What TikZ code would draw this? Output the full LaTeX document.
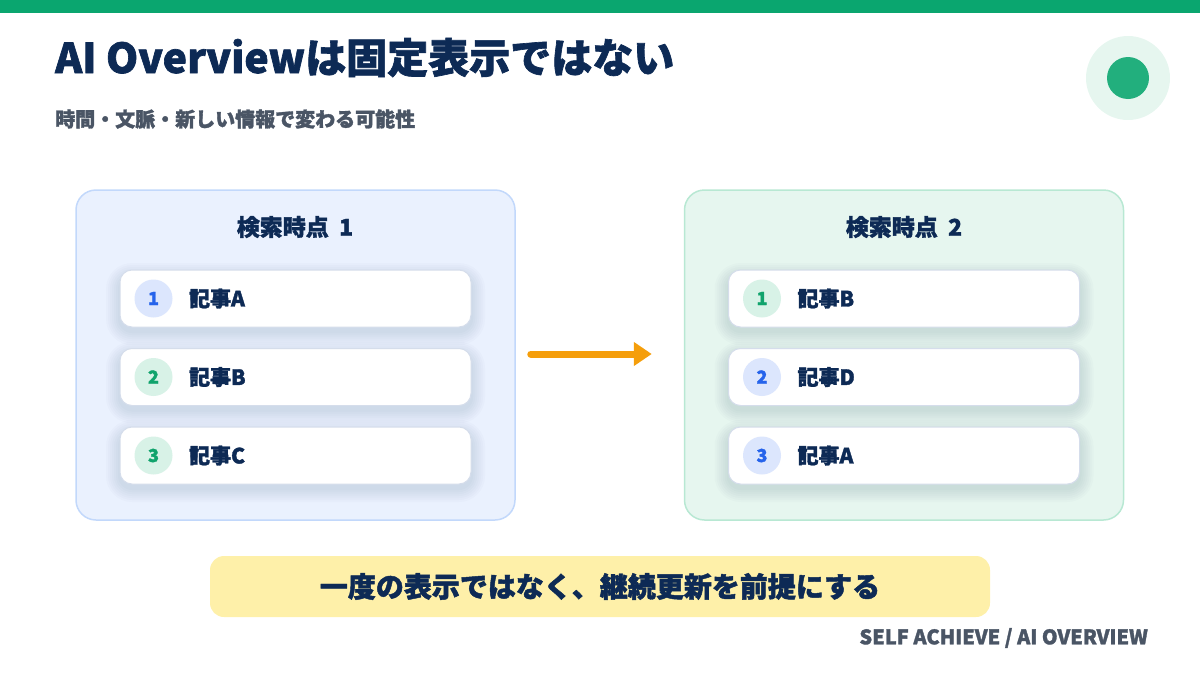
\documentclass[tikz,border=0pt]{standalone}
\usepackage{fontspec}
\setmainfont{Noto Sans CJK JP}[BoldFeatures={FakeBold=1.6}]
\usepackage{xcolor}
\usetikzlibrary{arrows.meta,positioning}

\definecolor{topbar}{HTML}{0AA66F}
\definecolor{navy}{HTML}{0D2A55}
\definecolor{subgray}{HTML}{4A5565}
\definecolor{bluebg}{HTML}{EAF1FE}
\definecolor{blueline}{HTML}{C2D8FB}
\definecolor{greenbg}{HTML}{E6F6EF}
\definecolor{greenline}{HTML}{B8E8D3}
\definecolor{itemline}{HTML}{D5DDEB}
\definecolor{numblue}{HTML}{2563EB}
\definecolor{badgeblue}{HTML}{DCE6FD}
\definecolor{numgreen}{HTML}{10A36C}
\definecolor{badgegreen}{HTML}{D8F2E7}
\definecolor{arroworange}{HTML}{F59E0B}
\definecolor{bannerbg}{HTML}{FEF0A9}
\definecolor{dotouter}{HTML}{E6F6EF}
\definecolor{dotinner}{HTML}{22AF7D}

\begin{document}
\begin{tikzpicture}[x=1pt,y=-1pt,
  panel/.style={line width=1.5pt,rounded corners=20pt,minimum width=439pt,minimum height=330pt},
  head/.style={text=navy,font=\bfseries\fontsize{23}{25}\selectfont},
  item/.style={draw=itemline,line width=1pt,fill=white,rounded corners=12pt,
    minimum width=351pt,minimum height=57pt},
  glow/.style={fill=navy,opacity=0.014},
  badge/.style={circle,minimum size=38pt,inner sep=0pt,font=\bfseries\fontsize{18}{18}\selectfont},
  entry/.style={anchor=west,text=navy,font=\bfseries\fontsize{21}{23}\selectfont}]
  \useasboundingbox (0,0) rectangle (1200,675);
  \fill[topbar] (0,0) rectangle (1200,13);

  % title
  \node[anchor=base west,inner sep=0pt,text=navy,font=\bfseries\fontsize{41}{44}\selectfont]
    (title) at (55,73) {AI Overviewは固定表示ではない};
  \node[anchor=west,inner sep=0pt,text=subgray,font=\bfseries\fontsize{20}{22}\selectfont]
    (sub) at (55,119) {時間・文脈・新しい情報で変わる可能性};
  \node[circle,fill=dotouter,minimum size=84pt,inner sep=0pt] (dot) at (1128,78) {};
  \node[circle,fill=dotinner,minimum size=42pt,inner sep=0pt] (dotin) at (dot) {};

  % panels
  \node[panel,draw=blueline,fill=bluebg] (p1) at (295.5,355) {};
  \node[panel,draw=greenline,fill=greenbg] (p2) at (904,355) {};
  \node[head] (h1) at (295,227) {検索時点\hspace{0.45em}1};
  \node[head] (h2) at (904,227) {検索時点\hspace{0.45em}2};

  \foreach \cx/\side/\list in {295.5/a/{1/A/numblue/badgeblue,2/B/numgreen/badgegreen,3/C/numgreen/badgegreen},
                               904/b/{1/B/numgreen/badgegreen,2/D/numblue/badgeblue,3/A/numblue/badgeblue}}{
    \foreach \k/\lab/\fg/\bg in \list{
      \pgfmathsetmacro\cy{220+78.5*\k}
      % soft shadow
      \foreach \s in {2,4,...,14}
        \fill[glow,rounded corners={12+\s}] (\cx-175.5-\s,\cy-28.5-\s+7) rectangle (\cx+175.5+\s,\cy+28.5+\s+4);
      \node[item] (\side\k) at (\cx,\cy) {};
      \node[badge,fill=\bg,text=\fg] (\side n\k) at ([xshift=34pt]\side\k.west) {\k};
      \node[entry] (\side t\k) at ([xshift=66pt]\side\k.west) {記事\lab};
    }
  }

  \draw[arroworange,line width=7pt,line cap=round,-{Triangle[length=18pt,width=23pt]}]
    ([xshift=15pt,yshift=1pt]p1.east) -- ([xshift=-32pt,yshift=1pt]p2.west);

  % bottom message
  \node[fill=bannerbg,rounded corners=14pt,minimum width=780pt,minimum height=61pt,
    text=navy,font=\bfseries\fontsize{28}{30}\selectfont]
    (msg) at (600,586.5) {一度の表示ではなく、継続更新を前提にする};
  \node[anchor=east,inner sep=0pt,text=subgray,font=\bfseries\fontsize{20}{21}\selectfont]
    (foot) at (1148,638) {SELF ACHIEVE / AI OVERVIEW};
\end{tikzpicture}
\end{document}
